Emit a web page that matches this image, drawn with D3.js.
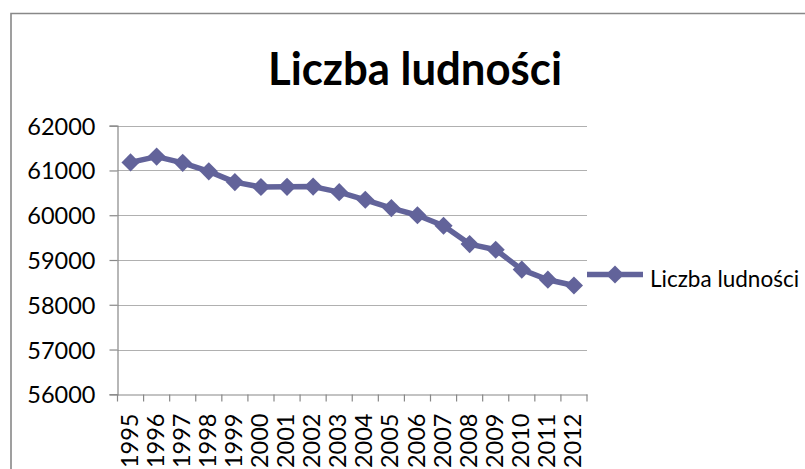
<!DOCTYPE html>
<html><head><meta charset="utf-8">
<script src="https://cdn.jsdelivr.net/npm/d3@7"></script>
<style>html,body{margin:0;padding:0;background:#fff;overflow:hidden}</style>
</head><body>
<svg id="c" width="805" height="469"></svg>
<script>
const years = ["1995","1996","1997","1998","1999","2000","2001","2002","2003","2004","2005","2006","2007","2008","2009","2010","2011","2012"];
const population = [61180,61310,61170,60980,60740,60630,60635,60640,60515,60345,60160,60000,59765,59355,59230,58785,58560,58430];
const yTicks = [56000,57000,58000,59000,60000,61000,62000];
const seriesName = "Liczba ludności";
const titleText = "Liczba ludności";

const svg = d3.select("#c");
const font = "Lato, 'Open Sans', sans-serif";
const color = "#62639A";

// frame
svg.append("path").attr("d","M11,480 L11,13.5 L815,13.5")
  .attr("fill","none").attr("stroke","#888").attr("stroke-width",1.6);

const x = d3.scaleBand().domain(years).range([117.5,587]).padding(0);
const y = d3.scaleLinear().domain([56000,62000]).range([394.3,125.7]);

// gridlines
svg.append("g").selectAll("line").data(yTicks.slice(1)).join("line")
  .attr("x1",117.5).attr("x2",587)
  .attr("y1",d=>Math.round(y(d))+0.5).attr("y2",d=>Math.round(y(d))+0.5)
  .attr("stroke","#b0b0b0").attr("stroke-width",1.2);

// y axis
const ya = svg.append("g").attr("transform","translate(117.5,0)")
  .call(d3.axisLeft(y).tickValues(yTicks).tickSize(8).tickPadding(14).tickFormat(d3.format("d")));
ya.select(".domain").attr("stroke","#888").attr("stroke-width",1.2);
ya.selectAll(".tick line").attr("stroke","#888").attr("stroke-width",1.2);
ya.selectAll(".tick text").attr("font-family",font).attr("font-size",23.5).attr("fill","#000")
  .attr("dy","0.36em");

// x axis
const xa = svg.append("g").attr("transform","translate(0,394.5)")
  .call(d3.axisBottom(x).tickSize(0).tickPadding(0));
xa.select(".domain").attr("stroke","#888").attr("stroke-width",1.2);
xa.selectAll(".tick line").remove();
xa.append("g").selectAll("line").data(years.concat(["_end"])).join("line")
  .attr("x1",(d,i)=>x.range()[0]+i*x.bandwidth()).attr("x2",(d,i)=>x.range()[0]+i*x.bandwidth())
  .attr("y1",0).attr("y2",7).attr("stroke","#888").attr("stroke-width",1.2);
xa.selectAll(".tick text")
  .attr("font-family",font).attr("font-size",23.5).attr("fill","#000")
  .attr("text-anchor","end").attr("transform","rotate(-90)")
  .attr("x",-19).attr("y",0).attr("dy","0.3em");

// line
const cx = d=>x(d)+x.bandwidth()/2;
svg.append("path").datum(years)
  .attr("d", d3.line().x(d=>cx(d)).y((d,i)=>y(population[i])))
  .attr("fill","none").attr("stroke",color).attr("stroke-width",5.5).attr("stroke-linejoin","round");

const diamond = d3.symbol().type(d3.symbolDiamond2).size(210);
svg.append("g").selectAll("path").data(years).join("path")
  .attr("d",diamond)
  .attr("transform",(d,i)=>`translate(${cx(d)},${y(population[i])})`)
  .attr("fill",color);

// title
svg.append("text").attr("x",415).attr("y",85).attr("text-anchor","middle")
  .attr("font-family",font).attr("font-weight","bold").attr("font-size",45)
  .attr("textLength",294).attr("lengthAdjust","spacingAndGlyphs")
  .text(titleText);

// legend
svg.append("line").attr("x1",587).attr("x2",643).attr("y1",274.5).attr("y2",274.5)
  .attr("stroke",color).attr("stroke-width",5.5);
svg.append("path").attr("d",diamond).attr("transform","translate(615,274.5)").attr("fill",color);
svg.append("text").attr("x",650).attr("y",286.5).attr("font-family",font).attr("font-size",22.5)
  .attr("fill","#000").text(seriesName);
</script>
</body></html>
